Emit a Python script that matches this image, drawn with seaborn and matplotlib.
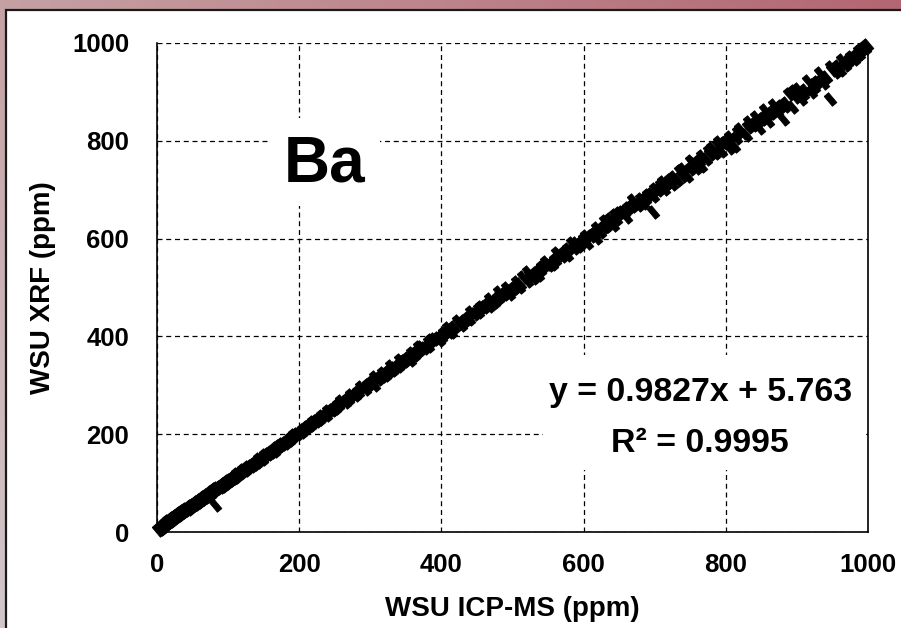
import numpy as np
import matplotlib
import matplotlib.pyplot as plt
import seaborn as sns
from matplotlib.patches import Rectangle

# Ba: WSU ICP-MS vs WSU XRF (ppm)
icpms = [2, 4, 5, 7, 8, 10, 11, 13, 14, 16, 18, 19, 21, 23, 25, 27, 29, 31, 33, 35,
         37, 39, 41, 44, 46, 48, 51, 53, 56, 58, 61, 63, 66, 68, 71, 74, 76, 79, 82, 82,
         85, 88, 91, 94, 97,
         100, 103, 107, 110, 113, 117, 121, 124, 128, 132, 136, 140, 144, 148, 152, 156,
         160, 164, 168, 172, 176, 180, 185, 189, 193, 197, 202, 206, 211, 215, 219, 223,
         228, 232, 237, 241, 246, 250, 255, 259, 264, 268, 273, 278, 283, 287, 292, 297,
         302, 306, 311, 316, 320, 325, 329, 334, 339, 344, 348, 353, 358, 362, 367, 372,
         376, 381, 386, 390, 395, 400, 404, 409, 413, 418, 423, 427, 432, 437, 441, 446,
         451, 455, 460, 465, 469, 474, 479, 483, 488, 492, 497,
         502, 506, 511, 515, 520, 524, 529, 533, 538, 542, 547, 551, 556, 560, 565, 569,
         574, 578, 583, 587, 592, 597, 601, 605, 610, 614, 619, 623, 628, 632, 637, 641,
         646, 650, 654, 659, 663, 668, 672, 677, 681, 686, 690, 695, 698, 700,
         704, 709, 713, 718, 722, 727, 731, 736, 740, 745, 749, 754, 758, 763, 767, 772,
         776, 780, 785, 789, 793, 798, 802, 806, 811, 815, 820, 824, 829, 833, 838, 842,
         846, 851, 855, 860, 864, 868, 872, 877, 880, 885, 889, 893, 898, 902, 906, 911,
         915, 920, 924, 928, 933, 937, 941, 946, 950, 954, 958, 963, 967, 971, 976, 980,
         984, 988, 992, 996, 998,
         305, 318, 331, 342, 356, 369, 383, 397, 411, 425, 439, 453, 467, 481, 495, 509,
         522, 536, 549, 563, 576, 590, 603, 617, 630, 644, 657, 670, 684, 697, 711, 724,
         738, 751, 765, 778, 791, 804, 817, 831, 844, 857, 870, 883, 896, 909, 922, 935,
         948, 961, 974, 987]
xrf = [4, 7, 9, 10, 12, 14, 16, 18, 19, 22, 23, 25, 27, 28, 31, 33, 34, 37, 38, 41,
       42, 45, 47, 48, 52, 53, 56, 58, 61, 62, 66, 67, 71, 72, 76, 78, 81, 83, 55, 88,
       89, 93, 95, 99, 100,
       105, 107, 111, 113, 118, 120, 126, 127, 133, 134, 140, 143, 149, 150, 157, 159,
       164, 166, 172, 175, 179, 183, 188, 192, 199, 200, 205, 208, 215, 218, 224, 226,
       232, 237, 240, 248, 249, 254, 260, 268, 266, 273, 280, 281, 287, 297, 292, 300,
       306, 316, 312, 320, 322, 328, 340, 336, 339, 348, 350, 356, 366, 362, 370, 378,
       377, 380, 392, 395, 396, 399, 406, 418, 410, 420, 432, 424, 432, 438, 450, 445,
       449, 460, 461, 466, 476, 471, 479, 483, 486, 498, 493,
       500, 511, 507, 521, 514, 526, 520, 530, 535, 541, 552, 545, 548, 556, 566, 565,
       572, 579, 590, 580, 585, 591, 599, 592, 605, 610, 621, 614, 624, 625, 640, 628,
       641, 652, 655, 644, 662, 666, 672, 668, 682, 680, 689, 692, 654, 702,
       699, 710, 702, 714, 719, 725, 720, 738, 742, 727, 742, 755, 745, 758, 768, 763,
       780, 786, 775, 792, 780, 795, 800, 807, 790, 805, 825, 815, 812, 838, 833, 848,
       827, 845, 862, 840, 856, 874, 860, 871, 845, 878, 895, 870, 890, 905, 885, 903,
       922, 900, 910, 920, 938, 918, 930, 885, 945, 940, 952, 965, 955, 962, 972, 968,
       975, 983, 988, 990, 995,
       300, 326, 332, 352, 352, 378, 388, 392, 408, 428, 436, 456, 462, 490, 486, 502,
       532, 525, 548, 570, 566, 592, 606, 602, 636, 648, 655, 678, 672, 688, 716, 712,
       728, 758, 748, 772, 798, 785, 818, 828, 838, 850, 866, 872, 902, 895, 915, 925,
       950, 945, 968, 978]

ticks = [0, 200, 400, 600, 800, 1000]
tick_labels = ['0', '200', '400', '600', '800', '1000']
element = 'Ba'
equation = 'y = 0.9827x + 5.763'
r_squared = 'R\u00b2 = 0.9995'

sns.set_style('white')
matplotlib.rcParams['font.family'] = ['Liberation Sans', 'DejaVu Sans']
matplotlib.rcParams['font.weight'] = 'bold'
matplotlib.rcParams['text.color'] = 'black'
matplotlib.rcParams['xtick.color'] = 'black'
matplotlib.rcParams['ytick.color'] = 'black'
matplotlib.rcParams['axes.labelcolor'] = 'black'

fig = plt.figure(figsize=(9.01, 6.28), dpi=100)

# pinkish gradient frame behind the white panel
bg = fig.add_axes([0, 0, 1, 1], zorder=-10)
tl = np.array([197, 161, 164]) / 255
tr = np.array([179, 102, 113]) / 255
bl = np.array([209, 199, 201]) / 255
br = np.array([200, 172, 177]) / 255
u = np.linspace(0, 1, 200)[None, :, None]
v = np.linspace(0, 1, 140)[:, None, None]
grad = (1 - v) * ((1 - u) * tl + u * tr) + v * ((1 - u) * bl + u * br)
bg.imshow(grad, aspect='auto', extent=[0, 1, 0, 1])
bg.axis('off')

panel = Rectangle((6 / 901, -0.05), 1.0, 1 - 10 / 628 + 0.05,
                  transform=fig.transFigure, facecolor='white',
                  edgecolor='#1a1a1a', linewidth=1.6, zorder=-5)
fig.patches.append(panel)

ax = fig.add_axes([157 / 901, 1 - 532 / 628, 711 / 901, 489 / 628])
ax.set_facecolor('none')

# chunky dash marker, tilted across the trend
ang = np.deg2rad(-50)
rect = np.array([[-1, -0.45], [1, -0.45], [1, 0.45], [-1, 0.45], [-1, -0.45]])
rot = np.array([[np.cos(ang), -np.sin(ang)], [np.sin(ang), np.cos(ang)]])
dash = rect @ rot.T

sns.scatterplot(x=icpms, y=xrf, ax=ax, marker=dash, s=95, color='black',
                edgecolor='black', linewidth=0.6, zorder=3, clip_on=False)

ax.set_xlim(0, 1000)
ax.set_ylim(0, 1000)
ax.set_xticks(ticks)
ax.set_yticks(ticks)
ax.set_xticklabels(tick_labels)
ax.set_yticklabels(tick_labels)
ax.tick_params(axis='both', direction='out', length=6, width=1, color='black',
               labelsize=18.5)
ax.tick_params(axis='x', pad=9)
ax.tick_params(axis='y', pad=14)
for lab in ax.get_xticklabels() + ax.get_yticklabels():
    lab.set_fontweight('bold')

ax.set_axisbelow(True)
ax.grid(True, color='black', linestyle=(0, (4, 3)), linewidth=0.9)
ax.spines['top'].set_visible(False)
for side in ['left', 'bottom', 'right']:
    ax.spines[side].set_visible(True)
    ax.spines[side].set_color('black')
    ax.spines[side].set_linewidth(1.2)

ax.set_xlabel('WSU ICP-MS (ppm)', fontsize=20, fontweight='bold')
ax.set_ylabel('WSU XRF (ppm)', fontsize=20, fontweight='bold')
ax.xaxis.set_label_coords(0.5, -0.157)
ax.yaxis.set_label_coords(-0.160, 0.50)
ax.xaxis.label.set_va('center')
ax.yaxis.label.set_va('center')

# white boxes behind the labels hide the grid
ax.add_patch(Rectangle((156, 667), 158, 180, facecolor='white', edgecolor='none', zorder=1.2))
ax.add_patch(Rectangle((543, 127), 453, 235, facecolor='white', edgecolor='none', zorder=1.2))

ax.text(236, 752, element, fontsize=46, fontweight='bold', ha='center', va='center', zorder=4)
ax.text(764, 286, equation, fontsize=24.4, fontweight='bold', ha='center', va='center', zorder=4)
ax.text(764, 182, r_squared, fontsize=24.4, fontweight='bold', ha='center', va='center', zorder=4)

fig.savefig('out.png', dpi=100)
